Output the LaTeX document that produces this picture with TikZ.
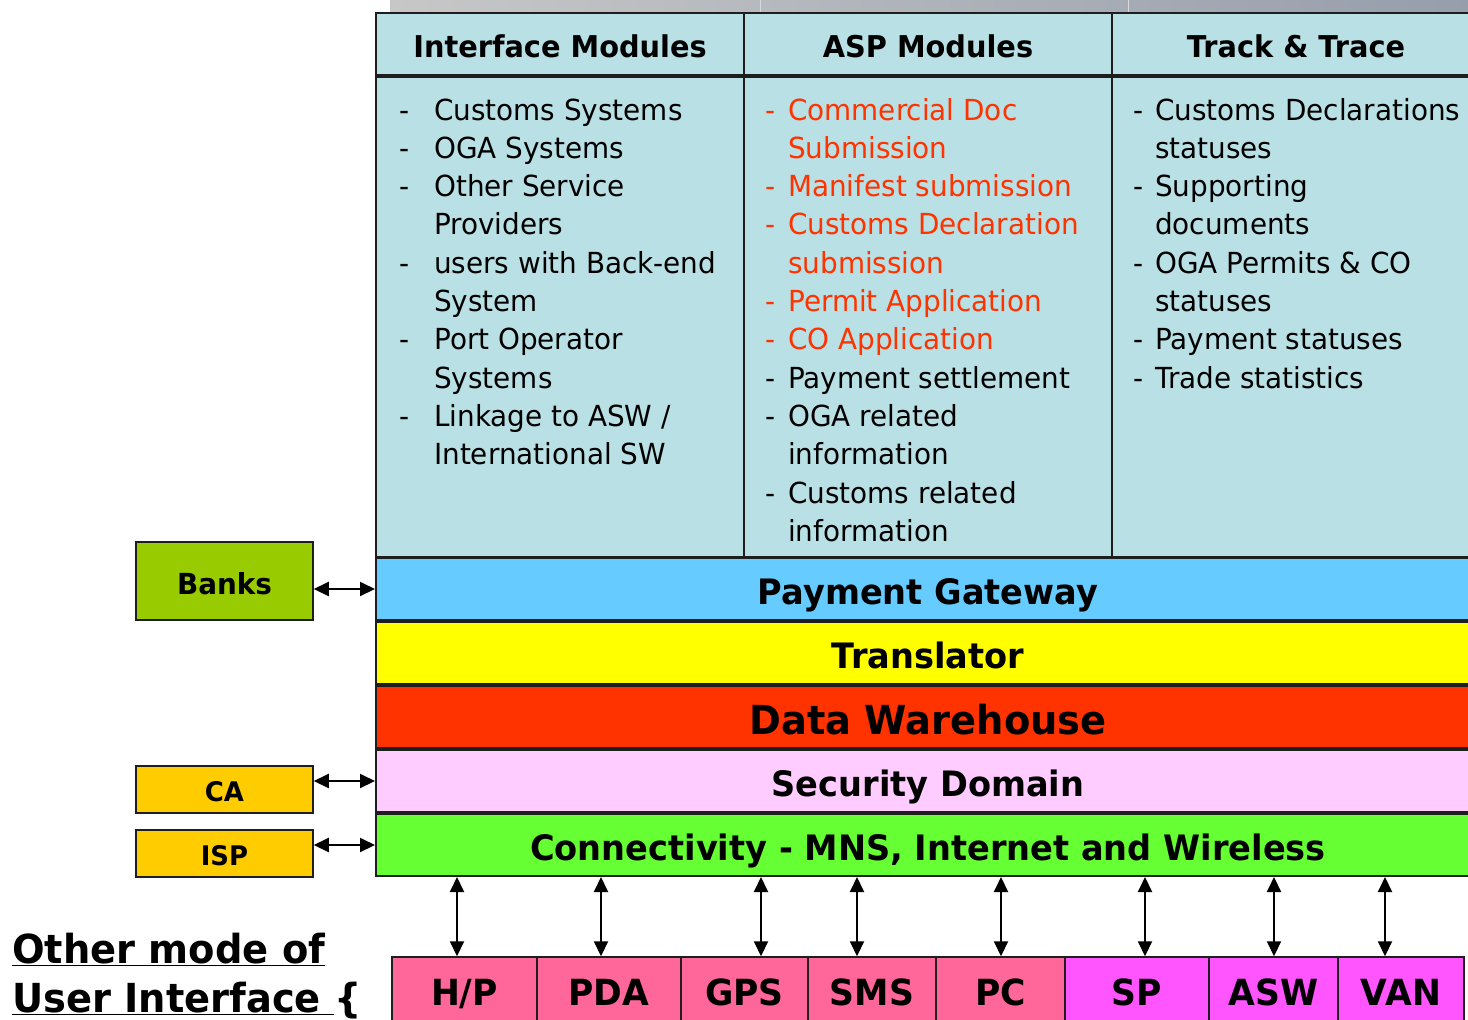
\documentclass[tikz,border=0pt]{standalone}
\usepackage{fontspec}
\setmainfont{DejaVu Sans}[FakeStretch=0.96]
\usetikzlibrary{arrows.meta}
\definecolor{bodyc}{RGB}{185,224,228}
\definecolor{pgc}{RGB}{102,204,255}
\definecolor{trc}{RGB}{255,255,0}
\definecolor{dwc}{RGB}{255,51,0}
\definecolor{sdc}{RGB}{255,204,255}
\definecolor{cnc}{RGB}{102,255,51}
\definecolor{bankc}{RGB}{153,204,0}
\definecolor{cac}{RGB}{255,204,0}
\definecolor{pinkc}{RGB}{255,102,153}
\definecolor{magc}{RGB}{255,85,255}
\definecolor{redt}{RGB}{255,51,0}
\definecolor{edge}{RGB}{30,30,30}
\begin{document}
\begin{tikzpicture}[x=1pt,y=-1pt,
  cell/.style={draw=edge,line width=2pt,fill=bodyc,inner sep=0pt,minimum width=368pt},
  headtxt/.style={font=\bfseries\fontsize{30}{36}\selectfont,text height=26pt,text depth=0pt},
  bar/.style={draw=edge,line width=2pt,inner sep=0pt,minimum width=1104pt,minimum height=62pt,font=\bfseries\fontsize{35}{40}\selectfont,text height=31.5pt,text depth=0pt},
  side/.style={draw=edge,line width=1.5pt,inner sep=0pt,minimum width=177pt,font=\bfseries\fontsize{29}{34}\selectfont,text height=26pt,text depth=0pt},
  dev/.style={draw=edge,line width=1.5pt,inner sep=0pt,minimum height=68pt,font=\bfseries\fontsize{36}{40}\selectfont,text height=28pt,text depth=0pt},
  item/.style={anchor=base west,inner sep=0pt,font=\fontsize{29}{35}\selectfont},
  link/.style={{Triangle[length=15pt,width=14pt]}-{Triangle[length=15pt,width=14pt]},line width=2pt}]
\useasboundingbox (0,0) rectangle (1468,1020);
\clip (0,0) rectangle (1468,1020);
% top gray strip
\shade[left color=black!22,right color={rgb,255:red,150;green,158;blue,172}] (390,0) rectangle (1468,12);
\draw[white!85!black,line width=1pt] (760,0) -- (760,12) (1128,0) -- (1128,12);
% header cells
\node[cell,headtxt,minimum height=62pt] (h1) at (560,44) {Interface Modules};
\node[cell,headtxt,minimum height=62pt] (h2) at (928,44) {ASP Modules};
\node[cell,headtxt,minimum height=62pt] (h3) at (1296,44) {Track \& Trace};
% body cells
\node[cell,minimum height=480pt] (b1) at (560,317) {};
\node[cell,minimum height=480pt] (b2) at (928,317) {};
\node[cell,minimum height=480pt] (b3) at (1296,317) {};
% column 1
\foreach \k/\d/\t in {0/-/Customs Systems,1/-/OGA Systems,2/-/Other Service,3//Providers,4/-/users with Back-end,5//System,6/-/Port Operator,7//Systems,8/-/{Linkage to ASW /},9//International SW}{
  \node[item] (ad\k) at (399,{120+38.33*\k}) {\d};
  \node[item] (at\k) at (434,{120+38.33*\k}) {\t};
}
% column 2
\foreach \k/\d/\c/\t in {0/-/redt/Commercial Doc,1//redt/Submission,2/-/redt/Manifest submission,3/-/redt/Customs Declaration,4//redt/submission,5/-/redt/Permit Application,6/-/redt/CO Application,7/-/black/Payment settlement,8/-/black/OGA related,9//black/information,10/-/black/Customs related,11//black/information}{
  \node[item,text=\c] (bd\k) at (765,{120+38.33*\k}) {\d};
  \node[item,text=\c] (bt\k) at (788,{120+38.33*\k}) {\t};
}
% column 3
\foreach \k/\d/\t in {0/-/Customs Declarations,1//statuses,2/-/Supporting,3//documents,4/-/OGA Permits \& CO,5//statuses,6/-/Payment statuses,7/-/Trade statistics}{
  \node[item] (cd\k) at (1133,{120+38.33*\k}) {\d};
  \node[item] (ct\k) at (1155,{120+38.33*\k}) {\t};
}
% layer bars
\node[bar,fill=pgc] (pg) at (928,589) {Payment Gateway};
\node[bar,fill=trc] (tr) at (928,653) {Translator};
\node[bar,fill=dwc,font=\bfseries\fontsize{40}{46}\selectfont,text height=35pt] (dw) at (928,717) {Data Warehouse};
\node[bar,fill=sdc] (sd) at (928,781) {Security Domain};
\node[bar,fill=cnc] (cn) at (928,845) {Connectivity - MNS, Internet and Wireless};
% side boxes
\node[side,fill=bankc,minimum height=78pt] (banks) at (224.5,581) {Banks};
\node[side,fill=cac,minimum height=47pt,font=\bfseries\fontsize{27}{32}\selectfont,text height=24.5pt] (ca) at (224.5,789.5) {CA};
\node[side,fill=cac,minimum height=47pt,font=\bfseries\fontsize{27}{32}\selectfont,text height=24.5pt] (isp) at (224.5,853.5) {ISP};
\draw[link] (banks.east |- pg.west) -- (pg.west);
\draw[link] (ca.east |- sd.west) -- (sd.west);
\draw[link] (isp.east |- cn.west) -- (cn.west);
% devices
\node[dev,fill=pinkc,minimum width=145pt] (hp) at (464.5,991) {H/P};
\node[dev,fill=pinkc,minimum width=144pt] (pda) at (609,991) {PDA};
\node[dev,fill=pinkc,minimum width=127pt] (gps) at (744.5,991) {GPS};
\node[dev,fill=pinkc,minimum width=128pt] (sms) at (872,991) {SMS};
\node[dev,fill=pinkc,minimum width=129pt] (pc) at (1000.5,991) {PC};
\node[dev,fill=magc,minimum width=144pt] (sp) at (1137,991) {SP};
\node[dev,fill=magc,minimum width=129pt] (asw) at (1273.5,991) {ASW};
\node[dev,fill=magc,minimum width=126pt] (van) at (1401,991) {VAN};
\foreach \n/\s in {hp/-7.5,pda/-8,gps/16.5,sms/-15,pc/0.5,sp/8,asw/0.5,van/-16}{
  \draw[link] ([xshift=\s pt]\n.north) -- ([xshift=\s pt]\n.north |- cn.south);
}
% caption
\node[anchor=base west,inner sep=0pt,font=\bfseries\fontsize{40}{46}\selectfont] (om1) at (12,963) {\underline{Other mode of}};
\node[anchor=base west,inner sep=0pt,font=\bfseries\fontsize{40}{46}\selectfont] (om2) at (12,1012) {\underline{User Interface\ }\{};
\end{tikzpicture}
\end{document}
